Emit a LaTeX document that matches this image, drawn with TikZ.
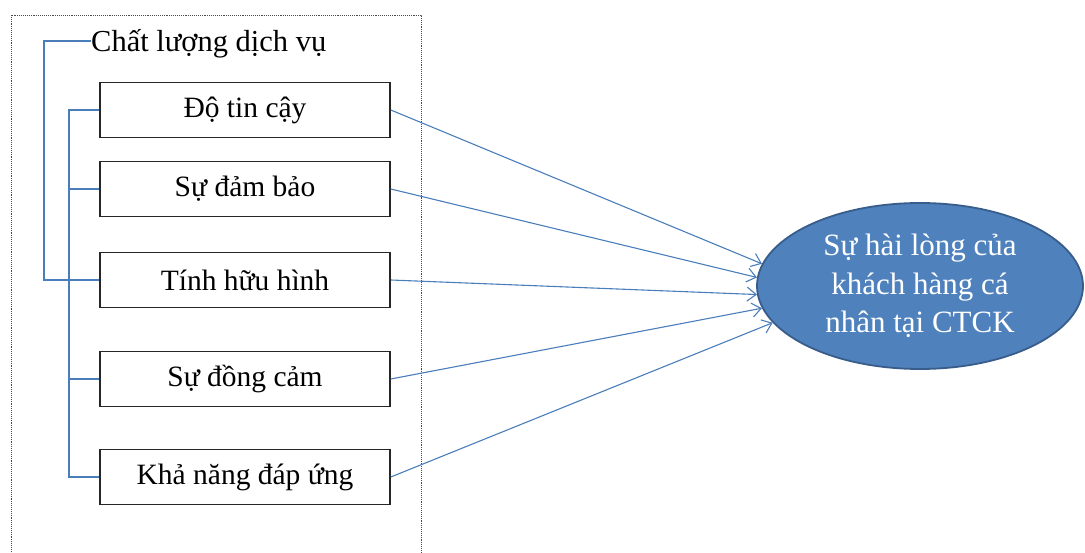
\documentclass[tikz,border=0pt]{standalone}
\usepackage{fontspec}
\setmainfont{Liberation Serif}
\usetikzlibrary{shapes.geometric,arrows.meta}
\definecolor{linkblue}{HTML}{4A7EBB}
\definecolor{ellfill}{HTML}{4F81BD}
\definecolor{elldraw}{HTML}{385D8A}
\tikzset{
  factor/.style={draw=black!85,line width=1.6pt,minimum width=290pt,minimum height=55pt,inner sep=0pt,font=\fontsize{29.5}{32}\selectfont,fill=white},
  brace/.style={draw=linkblue,line width=1.3pt},
  link/.style={draw=linkblue,line width=1.1pt,-{Straight Barb[length=9pt,width=14pt,line width=1.1pt]}},
}
\begin{document}
\begin{tikzpicture}[x=1pt,y=-1pt]
\useasboundingbox (0,0) rectangle (1085,553);
\draw[densely dotted,line width=0.9pt,black!70] (11,15) rectangle (421,570);
% factor boxes
\node[factor] (b1) at (245,110) {Độ tin cậy};
\node[factor] (b2) at (245,189) {Sự đảm bảo};
\node[factor] (b3) at (245,280) {Tính hữu hình};
\node[factor] (b4) at (245,379) {Sự đồng cảm};
\node[factor] (b5) at (245,477) {Khả năng đáp ứng};
% title
\node[anchor=west,inner sep=0pt,font=\fontsize{30.5}{34}\selectfont] (t) at (91,44) {Chất lượng dịch vụ};
\coordinate (o1) at (44,41);
\coordinate (o2) at (44,280);
\coordinate (i1) at (69,110);
\coordinate (i5) at (69,477);
\draw[brace] (t.west |- o1) -- (o1) -- (o2) -- (b3.west);
\draw[brace] (b1.west) -- (i1) -- (i5) -- (b5.west);
\draw[brace] (b2.west) -- (b2.west -| i1);
\draw[brace] (b4.west) -- (b4.west -| i1);
% ellipse
\node[ellipse,draw=elldraw,line width=1.8pt,fill=ellfill,minimum width=326pt,minimum height=166pt,inner sep=0pt,align=center,text=white,font=\fontsize{31}{38.5}\selectfont] (e) at (920,286) {Sự hài lòng của\\khách hàng cá\\nhân tại CTCK};
% links
\draw[link] (b1.east) -- (e.172);
\draw[link] (b2.east) -- (e.177);
\draw[link] (b3.east) -- (e.183);
\draw[link] (b4.east) -- (e.188);
\draw[link] (b5.east) -- (e.194);
\end{tikzpicture}
\end{document}
